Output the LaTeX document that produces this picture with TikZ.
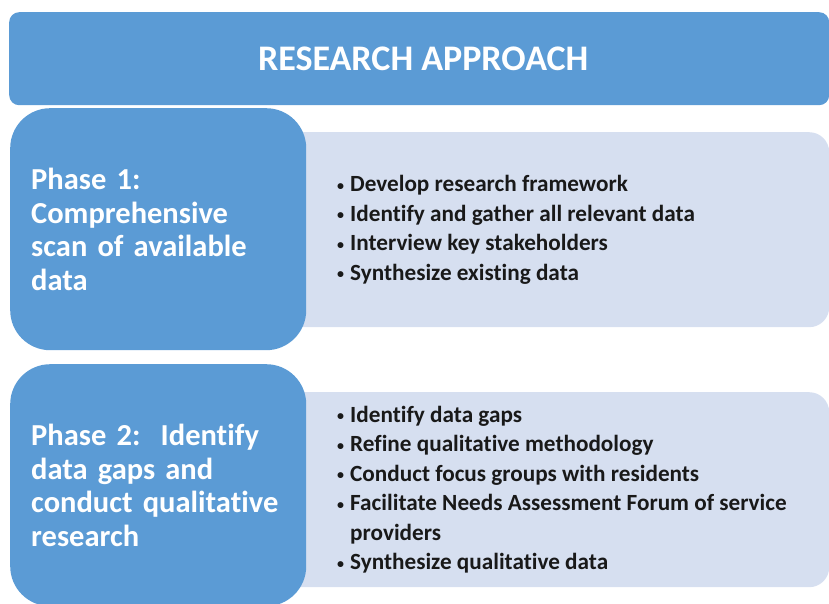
\documentclass[tikz,border=0pt]{standalone}
\usepackage{fontspec}
\setmainfont{Carlito}[Ligatures=NoCommon]
\usepackage{tikz}
\usetikzlibrary{positioning}
\definecolor{phaseblue}{HTML}{5B9BD5}
\definecolor{detailblue}{HTML}{D6DFF0}
\newcommand{\bitem}{\makebox[13pt][l]{\raisebox{1.5pt}{\fontsize{14}{14}\selectfont\textbullet}}}
\tikzset{
  titlebox/.style={ fill=phaseblue, rounded corners=10pt, minimum width=820pt, minimum height=93pt, text=white, font=\fontsize{36}{42}\selectfont\bfseries }
}
\tikzset{
  phasebox/.style={ fill=phaseblue, rounded corners=40pt, minimum width=296pt, minimum height=242pt, text width=254pt, inner xsep=21pt, align=left, text=white, font=\fontsize{30.5}{33.5}\selectfont\bfseries }
}
\tikzset{
  detailbox/.style={ fill=detailblue, rounded corners=20pt, minimum width=549pt, minimum height=195pt }
}
\tikzset{
  bulletlist/.style={ inner sep=0pt, align=left, text=black!90, font=\fontsize{23.2}{29.5}\selectfont\bfseries }
}

\begin{document}
\begin{tikzpicture}[x=1pt, y=-1pt]
      \useasboundingbox (0, 0) rectangle (829, 604);
      \node[detailbox, anchor=north west] (detail1) at (280, 132) {};
      \node[detailbox, anchor=north west] (detail2) at (280, 392) {};

      \node[phasebox, anchor=north west] (phase1) at (10, 108) {Phase 1:\\Comprehensive\\scan of available\\data};
      \node[phasebox, anchor=north west] (phase2) at (10, 364) {Phase 2:\ \ Identify\\data gaps and\\conduct qualitative\\research};

      \node[titlebox, anchor=north west] (title) at (9, 12) {\hspace*{8pt}RESEARCH APPROACH};

      \node[bulletlist, right=57pt of detail1.west] (list1) {%
        \bitem Develop research framework\\
        \bitem Identify and gather all relevant data\\
        \bitem Interview key stakeholders\\
        \bitem Synthesize existing data};
      \node[bulletlist, right=57pt of detail2.west] (list2) {%
        \bitem Identify data gaps\\
        \bitem Refine qualitative methodology\\
        \bitem Conduct focus groups with residents\\
        \bitem Facilitate Needs Assessment Forum of service\\
        \hspace*{13pt}providers\\
        \bitem Synthesize qualitative data};
    \end{tikzpicture}
\end{document}
